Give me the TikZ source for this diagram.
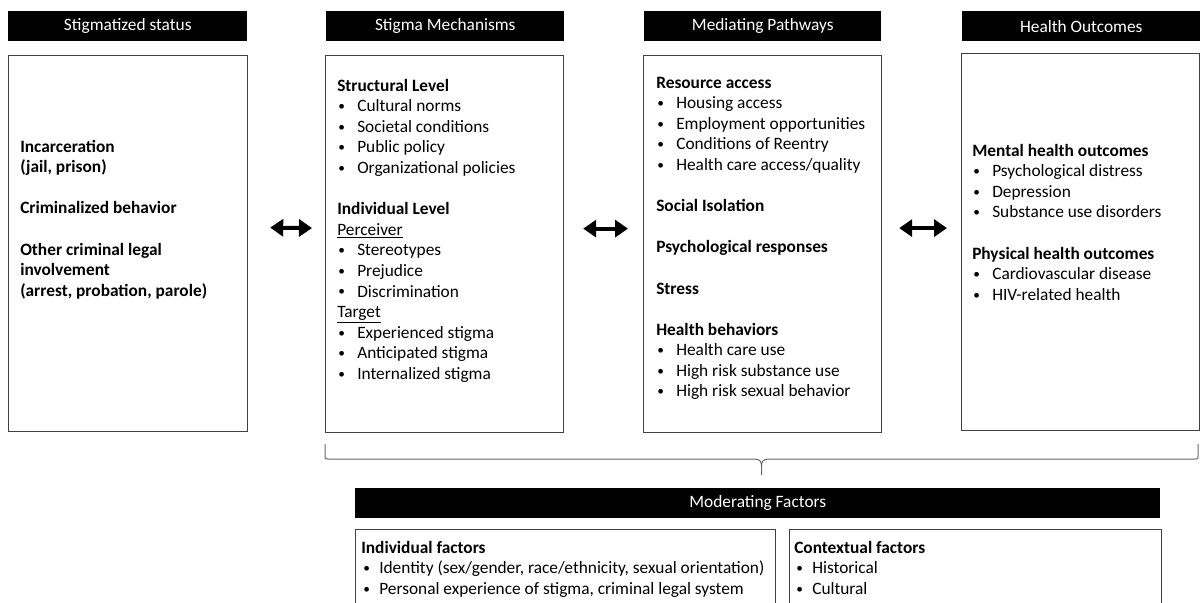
\documentclass[tikz,border=0pt]{standalone}
\usepackage{fontspec}
\setmainfont{Carlito}
\usetikzlibrary{arrows.meta}
% bullet items and blank lines
\newcommand{\dotb}{\raisebox{0.9pt}{\fontsize{10}{10}\selectfont\textbullet}}
\newcommand{\itm}[1]{\hspace*{0.75pt}\makebox[14.25pt][l]{\dotb}#1}
\newcommand{\mitm}[1]{\hspace*{1.5pt}\makebox[12pt][l]{\dotb}#1}
\newcommand{\gap}{\\[15.45pt]}
\newcommand{\col}[2][230pt]{\parbox[t]{#1}{#2}}
\tikzset{
  hdbar/.style={fill=black, text=white, inner sep=0pt, anchor=north west,
    minimum height=30*0.75pt, font=\fontsize{13}{15}\selectfont},
  panel/.style={draw=black!75, line width=0.9pt, inner sep=0pt, anchor=north west},
  txt/.style={anchor=base west, inner sep=0pt, font=\fontsize{13}{15.45}\selectfont},
  dblarrow/.style={{Triangle[length=9.75pt,width=12.75pt]}-{Triangle[length=9.75pt,width=12.75pt]},
    line width=3pt},
  bracket/.style={draw=black!60, line width=0.75pt},
}
\begin{document}
\begin{tikzpicture}[x=0.75pt, y=-0.75pt]
    \useasboundingbox (0,0) rectangle (1200,603);
    \clip (0,0) rectangle (1200,603);
    %Headers
    \node[hdbar, minimum width=239*0.75pt] (h1) at (8,11) {Stigmatized status};
    \node[hdbar, minimum width=238*0.75pt] (h2) at (326,11) {Stigma Mechanisms};
    \node[hdbar, minimum width=237*0.75pt] (h3) at (644,11) {Mediating Pathways};
    \node[hdbar, minimum width=238*0.75pt] (h4) at (962,11) {Health Outcomes};
    %Panels
    \node[panel, minimum width=239*0.75pt, minimum height=376*0.75pt] (s1) at (8,55) {};
    \node[panel, minimum width=238*0.75pt, minimum height=377*0.75pt] (s2) at (325,55) {};
    \node[panel, minimum width=238*0.75pt, minimum height=377*0.75pt] (s3) at (643,55) {};
    \node[panel, minimum width=238*0.75pt, minimum height=377*0.75pt] (s4) at (961,53) {};
    %Panel texts
    \node[txt] (t1) at (20,152) {\col{\bfseries Incarceration\\(jail, prison)\gap
      Criminalized behavior\gap Other criminal legal\\involvement\\(arrest, probation, parole)}};
    \node[txt] (t2) at (337,91) {\col{\textbf{Structural Level}\\
      \itm{Cultural norms}\\ \itm{Societal conditions}\\ \itm{Public policy}\\
      \itm{Organizational policies}\gap
      \textbf{Individual Level}\\ \underline{Perceiver}\\
      \itm{Stereotypes}\\ \itm{Prejudice}\\ \itm{Discrimination}\\
      \underline{Target}\\
      \itm{Experienced stigma}\\ \itm{Anticipated stigma}\\ \itm{Internalized stigma}}};
    \node[txt] (t3) at (656,88) {\col{\textbf{Resource access}\\
      \itm{Housing access}\\ \itm{Employment opportunities}\\
      \itm{Conditions of Reentry}\\ \itm{Health care access/quality}\gap
      \textbf{Social Isolation}\gap
      \textbf{Psychological responses}\gap
      \textbf{Stress}\gap
      \textbf{Health behaviors}\\
      \itm{Health care use}\\ \itm{High risk substance use}\\ \itm{High risk sexual behavior}}};
    \node[txt] (t4) at (972,156) {\col{\textbf{Mental health outcomes}\\
      \itm{Psychological distress}\\ \itm{Depression}\\ \itm{Substance use disorders}\gap
      \textbf{Physical health outcomes}\\
      \itm{Cardiovascular disease}\\ \itm{HIV-related health}}};
    %Arrows
    \draw[dblarrow] ([xshift=16.5pt,yshift=12pt]s1.east) -- ([xshift=-9.75pt,yshift=12pt]s2.west);
    \draw[dblarrow] ([xshift=14.25pt,yshift=11.6pt]s2.east) -- ([xshift=-11.25pt,yshift=11.6pt]s3.west);
    \draw[dblarrow] ([xshift=12.75pt,yshift=12pt]s3.east) -- ([xshift=-10.5pt,yshift=10.5pt]s4.west);
    %Brace
    \coordinate (bl) at (325,444);
    \coordinate (br) at (1198,444);
    \coordinate (bt) at (761.5,475);
    \draw[bracket] (bl) -- (325,456) .. controls (325,459) .. (328,459) -- (754,459)
      .. controls (759.5,459) and (761.5,461) .. (761.5,466) -- (bt);
    \draw[bracket] (br) -- (1198,456) .. controls (1198,459) .. (1195,459) -- (769,459)
      .. controls (763.5,459) and (761.5,461) .. (761.5,466);
    %Moderating factors
    \node[hdbar, minimum width=805*0.75pt] (mod) at (355,488) {Moderating Factors};
    \node[panel, minimum width=420*0.75pt, minimum height=100*0.75pt] (m1) at (355,529) {};
    \node[panel, minimum width=372*0.75pt, minimum height=100*0.75pt] (m2) at (789,529) {};
    \node[txt] (t5) at (361,553) {\col[310pt]{\textbf{Individual factors}\\
      \mitm{Identity (sex/gender, race/ethnicity, sexual orientation)}\\
      \mitm{Personal experience of stigma, criminal legal system}}};
    \node[txt] (t6) at (794,553) {\col{\textbf{Contextual factors}\\
      \mitm{Historical}\\ \mitm{Cultural}}};
\end{tikzpicture}
\end{document}
